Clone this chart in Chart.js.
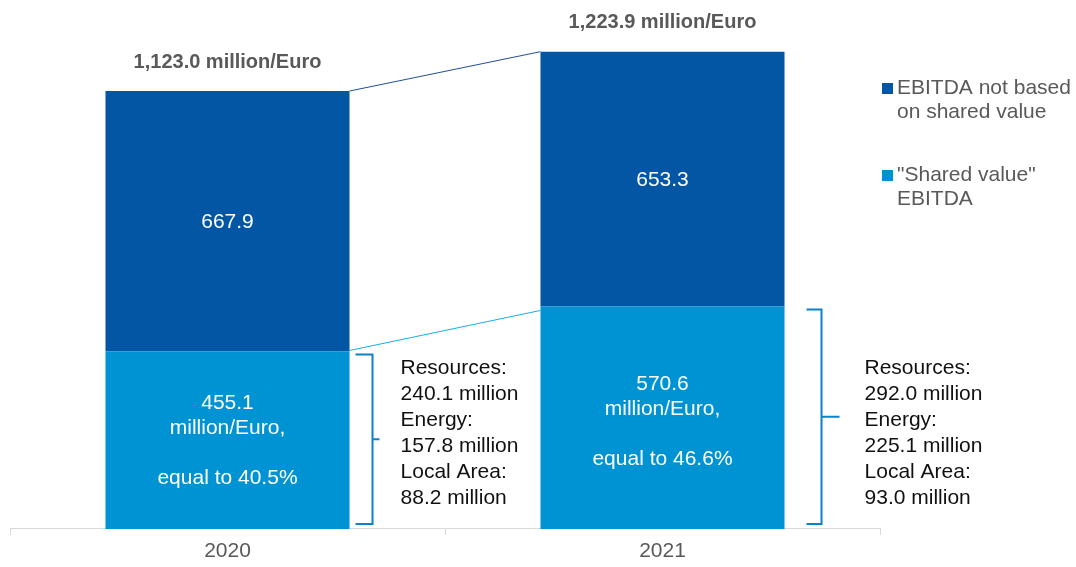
<!DOCTYPE html>
<html>
<head>
<meta charset="utf-8">
<script src="https://cdn.jsdelivr.net/npm/chart.js@4"></script>
<style>
  html, body { margin: 0; padding: 0; background: #fff; }
  canvas { display: block; }
</style>
</head>
<body>
<canvas id="myChart" width="1076" height="567"></canvas>
<script>
// data
const years = ['2020', '2021'];
const sharedValue = [455.1, 570.6];
const notShared = [667.9, 653.3];
const resources = [240.1, 292.0];
const energy = [157.8, 225.1];
const localArea = [88.2, 93.0];
const legendLabels = [['EBITDA not based', 'on shared value'], ['"Shared value"', 'EBITDA']];

const DARK = '#0256a3';
const LIGHT = '#0093d3';
const GREY = '#595959';
const FONT = "'Liberation Sans', Arial, sans-serif";

const totals = years.map((y, i) => sharedValue[i] + notShared[i]);
const fmt = v => v.toLocaleString('en-US', { minimumFractionDigits: 1, maximumFractionDigits: 1 });

// bracket placement per bar (offsets from bar right edge), label nudge
const bracketStyle = [
    { start: 6, vert: 23, tick: 7, text: 51, nudge: 0 },
    { start: 22, vert: 37, tick: 18, text: 80, nudge: 4 }
];

const extras = {
    id: 'extras',
    afterDatasetsDraw(chart) {
        const ctx = chart.ctx;
        const y = chart.scales.y;
        const lightBars = chart.getDatasetMeta(0).data;
        const darkBars = chart.getDatasetMeta(1).data;
        const zero = y.getPixelForValue(0);

        ctx.save();
        // connecting lines between the bars
        const half = lightBars[0].width / 2;
        ctx.lineWidth = 1;
        ctx.strokeStyle = '#1f4f96';
        ctx.beginPath();
        ctx.moveTo(darkBars[0].x + half, y.getPixelForValue(totals[0]));
        ctx.lineTo(darkBars[1].x - half, y.getPixelForValue(totals[1]));
        ctx.stroke();
        ctx.strokeStyle = '#19aee8';
        ctx.beginPath();
        ctx.moveTo(lightBars[0].x + half, y.getPixelForValue(sharedValue[0]) - 1);
        ctx.lineTo(lightBars[1].x - half, y.getPixelForValue(sharedValue[1]) + 4);
        ctx.stroke();

        ctx.textAlign = 'center';
        ctx.textBaseline = 'middle';
        years.forEach((yr, i) => {
            const x = darkBars[i].x;
            const s = bracketStyle[i];
            // total above bar
            ctx.fillStyle = GREY;
            ctx.font = 'bold 20px ' + FONT;
            ctx.fillText(fmt(totals[i]) + ' million/Euro', x, y.getPixelForValue(totals[i]) - 29);

            // dark segment value
            ctx.fillStyle = '#fff';
            ctx.font = '21px ' + FONT;
            ctx.fillText(fmt(notShared[i]), x, (y.getPixelForValue(totals[i]) + y.getPixelForValue(sharedValue[i])) / 2 + 1);

            // light segment label
            const pct = (sharedValue[i] / totals[i] * 100).toFixed(1);
            const lines = [fmt(sharedValue[i]), 'million/Euro,', '', 'equal to ' + pct + '%'];
            const mid = (zero + y.getPixelForValue(sharedValue[i])) / 2 + s.nudge;
            lines.forEach((t, k) => {
                ctx.fillText(t, x, mid + (k - 1.5) * 25);
            });

            // bracket
            const right = x + half;
            const top = y.getPixelForValue(sharedValue[i]) + 3;
            const bottom = zero - 5;
            const vx = right + s.vert;
            ctx.strokeStyle = '#0a82c8';
            ctx.lineWidth = 2;
            ctx.beginPath();
            ctx.moveTo(right + s.start, top);
            ctx.lineTo(vx, top);
            ctx.lineTo(vx, bottom);
            ctx.lineTo(right + s.start, bottom);
            ctx.moveTo(vx, (top + bottom) / 2);
            ctx.lineTo(vx + s.tick, (top + bottom) / 2);
            ctx.stroke();

            // breakdown text
            ctx.fillStyle = '#111';
            ctx.textAlign = 'left';
            const detail = ['Resources:', fmt(resources[i]) + ' million', 'Energy:', fmt(energy[i]) + ' million', 'Local Area:', fmt(localArea[i]) + ' million'];
            detail.forEach((t, k) => {
                ctx.fillText(t, right + s.text, zero - 161 + k * 26);
            });
            ctx.textAlign = 'center';
        });

        // legend
        const lx = chart.chartArea.right + 2;
        const colors = [DARK, LIGHT];
        const tops = [88, 175];
        ctx.textAlign = 'left';
        ctx.font = '21px ' + FONT;
        legendLabels.forEach((lab, i) => {
            ctx.fillStyle = colors[i];
            ctx.fillRect(lx, tops[i] - 5, 11, 11);
            ctx.fillStyle = GREY;
            lab.forEach((t, k) => ctx.fillText(t, lx + 15, tops[i] + k * 24));
        });
        ctx.restore();
    }
};

const ctx = document.getElementById('myChart').getContext('2d');
new Chart(ctx, {
    type: 'bar',
    data: {
        labels: years,
        datasets: [
            { label: '"Shared value" EBITDA', data: sharedValue, backgroundColor: LIGHT },
            { label: 'EBITDA not based on shared value', data: notShared, backgroundColor: DARK }
        ]
    },
    options: {
        responsive: false,
        animation: false,
        devicePixelRatio: 1,
        layout: { padding: { left: 10, right: 196, top: 22, bottom: 0 } },
        barPercentage: 0.561,
        categoryPercentage: 1,
        plugins: {
            legend: { display: false },
            tooltip: { enabled: false }
        },
        scales: {
            x: {
                stacked: true,
                grid: { offset: true, drawOnChartArea: false, tickLength: 6, color: '#d9d9d9' },
                border: { color: '#d9d9d9' },
                ticks: { color: GREY, font: { family: FONT, size: 21, lineHeight: 1.05 }, padding: 5 }
            },
            y: {
                stacked: true,
                display: false,
                min: 0,
                max: 1300
            }
        }
    },
    plugins: [extras]
});
</script>
</body>
</html>
